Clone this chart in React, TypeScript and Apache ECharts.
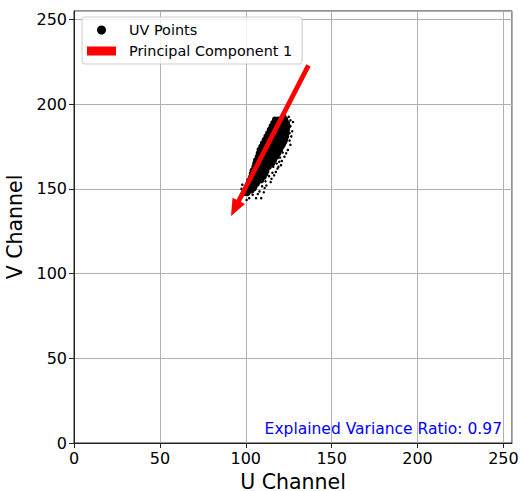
import React, { useEffect, useRef } from "react";
import * as echarts from "echarts";

// Dense core of the UV cluster: [V value, list of U values at that V]
const coreRows: Array<[number, number[]]> = [
  [191, [117, 119, 121, 123]],
  [189, [116, 118, 120, 122, 124]],
  [187, [115, 117, 119, 121, 123, 124.5]],
  [185, [114, 116, 118, 120, 122, 124]],
  [183, [113, 115, 117, 119, 121, 123, 124]],
  [181, [112, 114, 116, 118, 120, 122, 123.5]],
  [179, [111, 113, 115, 117, 119, 121, 123]],
  [177, [110, 112, 114, 116, 118, 120, 122]],
  [175, [109, 111, 113, 115, 117, 119, 121]],
  [173, [108, 110, 112, 114, 116, 118, 120]],
  [171, [107.5, 109.5, 111.5, 113.5, 115.5, 117.5, 119]],
  [169, [107, 109, 111, 113, 115, 117, 118]],
  [167, [106, 108, 110, 112, 114, 116.5]],
  [165, [105.5, 107.5, 109.5, 111.5, 113.5, 115.5]],
  [163, [105, 107, 109, 111, 113.5]],
  [161, [104, 106, 108, 110, 112]],
  [159, [103.5, 105.5, 107.5, 109.5, 111.5]],
  [157, [103, 105, 107, 109, 110.5]],
  [155, [102, 104, 106, 108, 109]],
  [153, [101.5, 103.5, 105.5, 106.5]],
  [151, [101, 103, 105]],
  [149, [100, 102, 103.5]],
  [147.5, [99.5, 101]],
];

// Scattered fringe points [U, V]
const sparsePoints: Array<[number, number]> = [
  [127.5, 189.5], [126, 187], [127, 184], [126.5, 181], [125.5, 178.5], [126, 176],
  [124.5, 173], [123.5, 171], [122.5, 169], [121, 166.5], [120.5, 164], [119.5, 166],
  [118.5, 162], [117.5, 160], [116.5, 158], [116, 163], [115, 156], [114.5, 154],
  [113.5, 157.5], [112, 152], [111, 150.5], [109.5, 151.5], [108, 148.5], [107, 147],
  [106, 144.5], [109, 144.5], [102, 144.5], [104, 146.5], [100.5, 143.5], [97.5, 150],
  [98, 152.5], [126, 190.5], [125, 192.5], [123, 193], [125.5, 183], [124.5, 180.5],
  [122.5, 175.5], [120, 168.5], [118, 165], [113, 160], [125, 185.5], [121.5, 171.5],
  [119, 163], [115.5, 159.5], [110.5, 148], [105.5, 149.5], [111.5, 154.5], [123.5, 177.5],
];

// Principal component arrow: [U start, V start, U tip, V tip]
const pcArrow: Array<[number, number, number, number]> = [[136.5, 222.9, 91.4, 134.0]];

const varianceRatio = "0.97";

const corePoints: Array<[number, number]> = [];
coreRows.forEach(([v, us]) => us.forEach((u) => corePoints.push([u, v])));

const FONT = "DejaVu Sans";

export default function App() {
  const ref = useRef<HTMLDivElement>(null);
  useEffect(() => {
    if (!ref.current) return;
    const chart = echarts.init(ref.current, null, { renderer: "svg" });
    const axisCommon = {
      type: "value" as const,
      min: 0,
      max: 255,
      interval: 50,
      nameLocation: "middle" as const,
      nameTextStyle: { fontSize: 20.5, color: "#000", fontFamily: FONT },
      axisLine: { show: true, lineStyle: { color: "#222", width: 1 } },
      axisTick: { show: true, inside: false, length: 5, lineStyle: { color: "#222" } },
      axisLabel: { fontSize: 16, color: "#000", fontFamily: FONT, margin: 7 },
      splitLine: { show: true, lineStyle: { color: "#b0b0b0", width: 1 } },
    };
    chart.setOption({
      animation: false,
      grid: {
        left: 74,
        right: 8,
        top: 11,
        bottom: 48,
        show: true,
        borderColor: "#222",
        borderWidth: 1,
        containLabel: false,
        outerBoundsMode: "none",
      },
      xAxis: {
        ...axisCommon,
        name: "U Channel",
        nameGap: 20,
        nameTextStyle: { fontSize: 20.5, color: "#000", fontFamily: FONT, lineHeight: 22 },
      },
      yAxis: { ...axisCommon, name: "V Channel", nameGap: 43 },
      legend: {
        orient: "vertical",
        left: 82,
        top: 17,
        padding: [6, 10, 6, 5],
        itemGap: 7,
        itemWidth: 29,
        itemHeight: 9,
        backgroundColor: "rgba(255,255,255,0.8)",
        borderColor: "#cccccc",
        borderWidth: 1,
        borderRadius: 3,
        formatter: "{t|{name}}",
        textStyle: {
          fontSize: 14.4,
          color: "#000",
          fontFamily: FONT,
          rich: { t: { fontSize: 14.4, color: "#000", fontFamily: FONT, padding: [0, 0, 0, 8] } },
        },
        data: [
          { name: "UV Points", icon: "circle", itemStyle: { color: "#000", opacity: 1 } },
          { name: "Principal Component 1", icon: "rect", itemStyle: { color: "#ff0000" } },
        ],
      },
      series: [
        {
          name: "UV Points",
          type: "scatter",
          data: corePoints,
          symbolSize: 6,
          z: 2,
          itemStyle: { color: "#000", opacity: 1 },
        },
        {
          name: "UV Points",
          type: "scatter",
          data: sparsePoints,
          symbolSize: 2.5,
          z: 2,
          itemStyle: { color: "#000", opacity: 1 },
        },
        {
          name: "Principal Component 1",
          type: "custom",
          z: 10,
          itemStyle: { color: "#ff0000" },
          data: pcArrow,
          renderItem: (params: any, api: any) => {
            const a = api.coord([api.value(0), api.value(1)]);
            const b = api.coord([api.value(2), api.value(3)]);
            const dx = b[0] - a[0];
            const dy = b[1] - a[1];
            const len = Math.hypot(dx, dy);
            const ux = dx / len;
            const uy = dy / len;
            const nx = -uy;
            const ny = ux;
            const hw = 2.4;
            const headW = 7;
            const headL = 17;
            const bx = b[0] - ux * headL;
            const by = b[1] - uy * headL;
            const pts = [
              [a[0] + nx * hw, a[1] + ny * hw],
              [bx + nx * hw, by + ny * hw],
              [bx + nx * headW, by + ny * headW],
              [b[0], b[1]],
              [bx - nx * headW, by - ny * headW],
              [bx - nx * hw, by - ny * hw],
              [a[0] - nx * hw, a[1] - ny * hw],
            ];
            return { type: "polygon", z2: 100, shape: { points: pts }, style: { fill: "#ff0000" } };
          },
        },
      ],
      graphic: [
        {
          type: "text",
          right: 18,
          top: 421,
          style: {
            text: "Explained Variance Ratio: " + varianceRatio,
            fill: "#0000ff",
            fontSize: 15.5,
            fontFamily: FONT,
          },
        },
      ],
    });
    return () => chart.dispose();
  }, []);
  return (
    <div
      ref={ref}
      style={{ position: "fixed", left: 0, top: 0, width: 520, height: 491, background: "#fff" }}
    />
  );
}
